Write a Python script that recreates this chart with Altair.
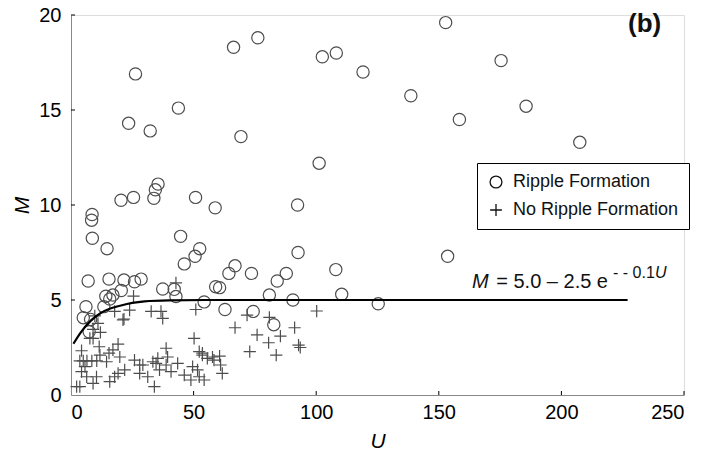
import altair as alt
import pandas as pd

# ---------------- data ----------------
ripple_u = [26.3, 23.5, 32.3, 43.8, 66.3, 69.3, 76.2, 102.5, 108.2, 119.1, 138.6, 152.8,
            158.4, 175.4, 185.6, 207.5, 101.2, 92.4, 153.6,
            8.6, 8.4, 20.4, 25.5, 33.8, 34.4, 35.5, 50.8, 58.8, 8.7, 14.7, 44.7, 52.5,
            50.6, 46.2, 92.6, 66.9, 64.4, 73.6, 87.8, 84.1, 108.0, 110.4, 125.3, 80.9,
            90.5, 62.8, 74.3, 82.7, 59.0, 60.6, 54.3,
            7.0, 15.5, 21.6, 25.9, 28.6, 20.5, 14.2, 15.8, 17.1, 6.1, 5.0, 8.0, 13.4,
            7.4, 37.4, 42.1, 42.8]
ripple_m = [16.9, 14.3, 13.9, 15.1, 18.3, 13.6, 18.8, 17.8, 18.0, 17.0, 15.75, 19.6,
            14.5, 17.6, 15.2, 13.3, 12.2, 10.0, 7.3,
            9.5, 9.2, 10.25, 10.4, 10.35, 10.8, 11.1, 10.4, 9.85, 8.25, 7.7, 8.35, 7.7,
            7.3, 6.9, 7.5, 6.8, 6.4, 6.4, 6.4, 6.0, 6.6, 5.3, 4.8, 5.26,
            5.0, 4.5, 4.4, 3.7, 5.7, 5.65, 4.9,
            6.0, 6.1, 6.05, 5.96, 6.1, 5.5, 5.2, 5.05, 5.26, 4.65, 4.07, 3.98, 4.65,
            3.33, 5.58, 5.56, 5.18]

noripple_u = [42.8, 25.5, 23.9, 21.2, 17.8, 32.7, 36.7, 37.4, 50.9, 9.7, 11.0, 9.0,
              7.7, 9.0, 11.5, 19.2, 17.1, 4.3, 3.6, 5.0, 6.5, 8.5, 10.5, 11.8, 15.5,
              19.9, 14.5, 25.9, 29.3, 33.4, 34.7, 35.4, 38.8, 39.4, 43.5, 50.2, 52.3,
              53.6, 55.6, 57.7, 49.6, 51.6, 52.3, 5.7, 4.3, 6.4, 10.4, 9.0, 3.6, 2.3,
              17.8, 19.2, 15.8, 21.9, 28.0, 31.3, 34.0, 28.0, 36.1, 38.8, 40.8, 46.2,
              48.9, 54.3,
              100.2, 80.9, 71.8, 66.9, 75.9, 80.6, 85.4, 91.2, 92.8, 93.5, 72.9, 83.7,
              58.3, 60.6, 61.0, 61.7, 53.6, 21.6, 12.0]
noripple_m = [5.9, 5.2, 4.47, 3.95, 4.4, 4.4, 4.4, 4.03, 4.5, 4.16, 3.77, 3.45,
              2.98, 2.98, 2.54, 2.68, 2.37, 2.33, 1.8, 1.8, 1.8, 1.8, 1.8, 2.1, 2.2,
              2.0, 1.75, 1.84, 1.58, 1.75, 1.66, 1.93, 2.46, 2.0, 1.66, 2.98, 2.28,
              2.1, 1.93, 2.0, 1.49, 1.32, 0.96, 1.49, 1.23, 0.96, 0.96, 0.61, 0.44, 0.44,
              0.96, 1.14, 0.7, 1.32, 1.14, 0.96, 0.44, 1.58, 1.32, 1.58, 1.23, 1.05,
              0.79, 0.79,
              4.42, 4.09, 4.2, 3.54, 3.16, 2.75, 3.1, 3.54, 2.63, 2.5, 2.28, 2.1,
              1.84, 2.05, 1.58, 1.14, 2.2, 4.0, 3.3]

# fitted curve M = 5.0 - 2.5 e^(-0.1U)
curve_u = [1, 4, 8, 12, 16, 20, 25, 30, 40, 60, 100, 150, 227]
curve_m = [2.7, 3.3, 3.9, 4.3, 4.55, 4.7, 4.85, 4.93, 4.98, 5.0, 5.0, 5.0, 5.0]

x_ticks = [0, 50, 100, 150, 200, 250]
y_ticks = [0, 5, 10, 15, 20]
types = ["Ripple Formation", "No Ripple Formation"]

# ---------------- tables ----------------
pts = pd.DataFrame({
    "U": ripple_u + noripple_u,
    "M": ripple_m + noripple_m,
    "Type": [types[0]] * len(ripple_u) + [types[1]] * len(noripple_u),
})
curve = pd.DataFrame({"U": curve_u, "M": curve_m})
xt = pd.DataFrame({"U": x_ticks[1:]})
yt = pd.DataFrame({"M": y_ticks[1:]})

W, H = 613, 380
FONT = "Liberation Sans"
PLUS = "M-1,0L1,0M0,-1L0,1"

xscale = alt.Scale(domain=[0, 250], nice=False, zero=False)
yscale = alt.Scale(domain=[0, 20], nice=False, zero=False)

xaxis = alt.Axis(values=x_ticks, title="U", ticks=False, grid=False, labelFontSize=20,
                 labelPadding=7, titleFontSize=21, titleFontStyle="italic",
                 titleFontWeight="normal", titlePadding=8)
yaxis = alt.Axis(values=y_ticks, title="M", ticks=False, grid=False, labelFontSize=20,
                 labelPadding=10, titleFontSize=21, titleFontStyle="italic",
                 titleFontWeight="normal", titlePadding=6)

points = alt.Chart(pts).mark_point(filled=False, size=150, strokeWidth=1.2, opacity=1,
                                   color="#4d4d4d").encode(
    x=alt.X("U:Q", scale=xscale, axis=xaxis),
    y=alt.Y("M:Q", scale=yscale, axis=yaxis),
    shape=alt.Shape("Type:N", scale=alt.Scale(domain=types, range=["circle", PLUS]),
                    legend=alt.Legend(title=None, orient="none", legendX=406, legendY=148,
                                      strokeColor="black", fillColor="white", padding=10,
                                      rowPadding=10, labelFontSize=18, labelFont=FONT,
                                      labelLimit=400, labelColor="#111", symbolSize=140,
                                      symbolStrokeColor="#111", symbolStrokeWidth=1.3,
                                      symbolFillColor="transparent", labelOffset=8,
                                      cornerRadius=0)),
)

line = alt.Chart(curve).mark_line(color="black", strokeWidth=2.2,
                                  interpolate="monotone").encode(
    x=alt.X("U:Q", scale=xscale), y=alt.Y("M:Q", scale=yscale))

xtick_marks = alt.Chart(xt).mark_rule(color="black", strokeWidth=1).encode(
    x=alt.X("U:Q", scale=xscale), y=alt.value(H - 4), y2=alt.value(H))
ytick_marks = alt.Chart(yt).mark_rule(color="black", strokeWidth=1).encode(
    y=alt.Y("M:Q", scale=yscale), x=alt.value(0), x2=alt.value(4))

ann = pd.DataFrame({"k": [0]})
def label(txt, x, y, size, style="normal", weight="normal", align="left"):
    return alt.Chart(ann).mark_text(text=txt, fontSize=size, font=FONT, fontStyle=style,
                                    fontWeight=weight, align=align, baseline="alphabetic",
                                    color="#111").encode(x=alt.value(x), y=alt.value(y))

texts = (
    label("(b)", 557, 17, 26, weight="bold")
    + label("M", 401, 273, 20, style="italic")
    + label("= 5.0 – 2.5 e", 537, 273, 20, align="right")
    + label("‐ ‐ 0.1", 542, 263, 16)
    + label("U", 584, 263, 16, style="italic")
)

chart = (points + line + xtick_marks + ytick_marks + texts).properties(
    width=W, height=H,
    autosize=alt.AutoSizeParams(type="none"),
    padding={"left": 71, "top": 15, "right": 20, "bottom": 65},
).configure_view(stroke=None).configure_axis(
    domainColor="#111", domainWidth=1.5, labelColor="#111", titleColor="#111",
    labelFont=FONT, titleFont=FONT,
).configure(background="white")

chart.save("out.html", embed_options={"renderer": "svg", "actions": False})
